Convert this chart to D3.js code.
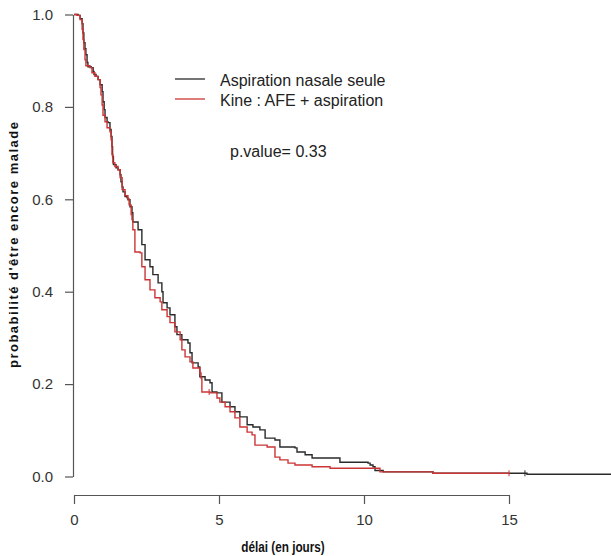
<!DOCTYPE html>
<html>
<head>
<meta charset="utf-8">
<script src="https://d3js.org/d3.v7.min.js"></script>
<style>
  body { margin: 0; background: #fff; }
  svg { display: block; }
  .tick text { font-family: "Liberation Sans", Arial, sans-serif; font-size: 15px; fill: #333; }
  .axis path, .axis line { stroke: #555; stroke-width: 1.2; }
  .title { font-family: "Liberation Sans Narrow", "Arial Narrow", "Liberation Sans", sans-serif; font-weight: bold; fill: #111; }
  .legend { font-family: "Liberation Sans", Arial, sans-serif; font-size: 16px; fill: #222; }
</style>
</head>
<body>
<div id="chart"></div>
<script>
// Kaplan-Meier steps: time (days) and survival after each drop
const blackTimes = [0, 0.14, 0.21, 0.28, 0.31, 0.34, 0.38, 0.41, 0.45, 0.48,
  0.59, 0.66, 0.69, 0.76, 0.83, 0.90, 0.97, 1.00, 1.04, 1.07,
  1.14, 1.17, 1.24, 1.28, 1.31, 1.33, 1.36, 1.45, 1.52, 1.59,
  1.62, 1.66, 1.69, 1.76, 1.83, 1.86, 1.93, 2.00, 2.03, 2.21,
  2.34, 2.45, 2.62, 2.72, 2.90, 3.03, 3.07, 3.21, 3.31, 3.48,
  3.55, 3.72, 3.93, 4.00, 4.07, 4.28, 4.34, 4.52, 4.69, 4.76,
  4.93, 5.10, 5.38, 5.55, 5.72, 5.97, 6.17, 6.41, 6.59, 6.93,
  7.10, 7.62, 7.69, 7.97, 8.21, 9.17, 10.14, 10.21, 10.31, 10.38,
  10.66, 12.38, 15.62];
const blackSurv = [1, 0.998, 0.991, 0.980, 0.960, 0.939, 0.926, 0.913, 0.896, 0.887,
  0.885, 0.877, 0.870, 0.866, 0.859, 0.848, 0.833, 0.811, 0.794, 0.777,
  0.768, 0.766, 0.751, 0.736, 0.714, 0.692, 0.675, 0.668, 0.664, 0.653,
  0.638, 0.627, 0.616, 0.606, 0.603, 0.599, 0.584, 0.571, 0.551, 0.534,
  0.502, 0.469, 0.454, 0.437, 0.419, 0.400, 0.376, 0.365, 0.350, 0.324,
  0.307, 0.296, 0.289, 0.268, 0.246, 0.237, 0.216, 0.209, 0.203, 0.183,
  0.181, 0.161, 0.151, 0.140, 0.129, 0.112, 0.107, 0.101, 0.083, 0.079,
  0.064, 0.062, 0.053, 0.047, 0.040, 0.031, 0.029, 0.025, 0.021, 0.013,
  0.010, 0.007, 0.005];
const blackEnd = 18.7;
const blackCensor = [15.55];

const redTimes = [0, 0.10, 0.21, 0.28, 0.31, 0.34, 0.38, 0.41, 0.55, 0.62,
  0.72, 0.83, 0.90, 0.93, 0.97, 1.00, 1.07, 1.14, 1.24, 1.28,
  1.31, 1.34, 1.41, 1.52, 1.59, 1.66, 1.76, 1.86, 1.90, 1.97,
  2.00, 2.03, 2.10, 2.28, 2.34, 2.45, 2.62, 2.79, 2.97, 3.03,
  3.21, 3.31, 3.48, 3.66, 3.72, 3.83, 4.00, 4.10, 4.34, 4.38,
  4.41, 4.69, 4.93, 5.03, 5.21, 5.38, 5.55, 5.72, 5.97, 6.14,
  6.24, 6.66, 6.93, 7.10, 7.38, 7.62, 8.21, 8.83, 10.55, 12.38];
const redSurv = [1, 0.998, 0.989, 0.968, 0.946, 0.924, 0.902, 0.889, 0.885, 0.874,
  0.866, 0.859, 0.842, 0.826, 0.804, 0.782, 0.768, 0.755, 0.746, 0.729,
  0.697, 0.679, 0.671, 0.664, 0.647, 0.621, 0.608, 0.601, 0.588, 0.567,
  0.556, 0.534, 0.486, 0.484, 0.454, 0.426, 0.404, 0.387, 0.378, 0.361,
  0.346, 0.333, 0.313, 0.296, 0.274, 0.259, 0.248, 0.235, 0.224, 0.213,
  0.183, 0.181, 0.170, 0.161, 0.151, 0.140, 0.127, 0.107, 0.096, 0.090,
  0.068, 0.064, 0.042, 0.036, 0.029, 0.025, 0.021, 0.018, 0.010, 0.007];
const redEnd = 15;
const redCensor = [4.66, 15];

const xTicks = [0, 5, 10, 15];
const yTicks = [0, 0.2, 0.4, 0.6, 0.8, 1.0];
const legendLabels = ["Aspiration nasale seule", "Kine : AFE + aspiration"];
const pValueText = "p.value= 0.33";
const xTitle = "délai (en jours)";
const yTitle = "probabilité d'être encore malade";

const colors = ["#2a2a2a", "#cc3535"];
const width = 611, height = 556;

const svg = d3.select("#chart").append("svg")
    .attr("width", width)
    .attr("height", height);

const x = d3.scaleLinear().domain([0, 15]).range([74, 509]);
const y = d3.scaleLinear().domain([0, 1]).range([476.5, 14.5]);

// axes
svg.append("g")
    .attr("class", "axis")
    .attr("transform", "translate(0,495)")
    .call(d3.axisBottom(x).tickValues(xTicks).tickSize(9).tickSizeOuter(0).tickPadding(10).tickFormat(d3.format("d")));

svg.append("g")
    .attr("class", "axis")
    .attr("transform", "translate(73,0)")
    .call(d3.axisLeft(y).tickValues(yTicks).tickSize(8).tickSizeOuter(0).tickPadding(12).tickFormat(d3.format(".1f")));

// narrow bold titles, squeezed horizontally
svg.append("text")
    .attr("class", "title")
    .attr("transform", "translate(283,552) scale(0.84,1)")
    .attr("text-anchor", "middle")
    .attr("font-size", "14px")
    .text(xTitle);

svg.append("text")
    .attr("class", "title")
    .attr("transform", "translate(18,245) rotate(-90)")
    .attr("text-anchor", "middle")
    .attr("font-size", "13px")
    .attr("textLength", 246)
    .attr("lengthAdjust", "spacing")
    .text(yTitle);

// curves
const line = d3.line()
    .x(d => x(d[0]))
    .y(d => y(d[1]))
    .curve(d3.curveStepAfter);

function stepData(times, surv, end) {
    const pts = times.map((t, i) => [t, surv[i]]);
    pts.push([end, surv[surv.length - 1]]);
    return pts;
}

// survival value at time t, for the censor marks
function survAt(times, surv, t) {
    const i = d3.bisectRight(times, t) - 1;
    return surv[Math.max(i, 0)];
}

const groups = [
    { times: blackTimes, surv: blackSurv, end: blackEnd, censor: blackCensor, color: colors[0] },
    { times: redTimes, surv: redSurv, end: redEnd, censor: redCensor, color: colors[1] }
];

groups.forEach(g => {
    svg.append("path")
        .datum(stepData(g.times, g.surv, g.end))
        .attr("fill", "none")
        .attr("stroke", g.color)
        .attr("stroke-width", 1.4)
        .attr("d", line);

    svg.selectAll(null)
        .data(g.censor)
        .enter()
        .append("line")
        .attr("x1", d => x(d)).attr("x2", d => x(d))
        .attr("y1", d => y(survAt(g.times, g.surv, d)) - 3)
        .attr("y2", d => y(survAt(g.times, g.surv, d)) + 3)
        .attr("stroke", g.color)
        .attr("stroke-width", 1);
});

// legend
legendLabels.forEach((label, i) => {
    const ly = 79 + i * 20;
    svg.append("line")
        .attr("x1", 175).attr("x2", 205)
        .attr("y1", ly).attr("y2", ly)
        .attr("stroke", colors[i])
        .attr("stroke-width", 1.3);
    svg.append("text")
        .attr("class", "legend")
        .attr("x", 220)
        .attr("y", ly + 7)
        .text(label);
});

svg.append("text")
    .attr("class", "legend")
    .attr("x", 230)
    .attr("y", 157)
    .text(pValueText);
</script>
</body>
</html>
